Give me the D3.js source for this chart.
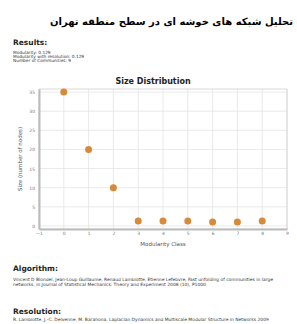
<!DOCTYPE html>
<html>
<head>
<meta charset="utf-8">
<script src="https://cdn.jsdelivr.net/npm/d3@7"></script>
<style>
  body { margin: 0; background: #fff; }
  svg { display: block; }
</style>
</head>
<body>
<script>
var classes = [0, 1, 2, 3, 4, 5, 6, 7, 8];
var sizes = [35, 20, 10, 1.3, 1.3, 1.3, 1, 1, 1.3];
var xTicks = [-1, 0, 1, 2, 3, 4, 5, 6, 7, 8, 9];
var yTicks = [0, 5, 10, 15, 20, 25, 30, 35];

var resultLines = ['Modularity: 0.129', 'Modularity with resolution: 0.129', 'Number of Communities: 9'];
var algoLines = ['Vincent D Blondel, Jean-Loup Guillaume, Renaud Lambiotte, Etienne Lefebvre, Fast unfolding of communities in large',
                 'networks, in Journal of Statistical Mechanics: Theory and Experiment 2008 (10), P1000'];
var resoLine = 'R. Lambiotte, J.-C. Delvenne, M. Barahona, Laplacian Dynamics and Multiscale Modular Structure in Networks 2009';

const width = 297, height = 324;
const plot = { left: 39, right: 287, top: 89, bottom: 229 };
const font = "'DejaVu Sans', sans-serif";

const svg = d3.select("body").append("svg")
    .attr("width", width).attr("height", height)
    .style("font-family", font);

// page header (Persian, right aligned)
svg.append("text")
    .attr("x", 293).attr("y", 25)
    .attr("text-anchor", "end")
    .attr("font-size", 10).attr("font-weight", "bold")
    .text("تحلیل شبکه های خوشه ای در سطح منطقه تهران");

function heading(label, y) {
    svg.append("text").attr("x", 13).attr("y", y)
        .attr("font-size", 7.5).attr("font-weight", "bold").attr("fill", "#222")
        .text(label);
}

heading("Results:", 45);
resultLines.forEach(function (t, i) {
    svg.append("text").attr("x", 13).attr("y", 54 + i * 4)
        .attr("font-size", 4.3).attr("fill", "#333").text(t);
});

// scales
const x = d3.scaleLinear().domain([-1, 9]).range([plot.left, plot.right]);
const y = d3.scaleLinear().domain([-0.8, 35.8]).range([plot.bottom, plot.top]);

svg.append("text")
    .attr("x", 153).attr("y", 84)
    .attr("text-anchor", "middle")
    .attr("font-size", 8).attr("font-weight", "bold").attr("fill", "#222")
    .text("Size Distribution");

const chart = svg.append("g");

// grid
chart.selectAll(".vgrid").data(xTicks).enter().append("line")
    .attr("x1", d => x(d)).attr("x2", d => x(d))
    .attr("y1", plot.top).attr("y2", plot.bottom)
    .attr("stroke", "#e4e4e4").attr("stroke-width", 0.8);
chart.selectAll(".hgrid").data(yTicks).enter().append("line")
    .attr("x1", plot.left).attr("x2", plot.right)
    .attr("y1", d => y(d)).attr("y2", d => y(d))
    .attr("stroke", "#e4e4e4").attr("stroke-width", 0.8);

// frame
chart.append("rect")
    .attr("x", plot.left).attr("y", plot.top)
    .attr("width", plot.right - plot.left).attr("height", plot.bottom - plot.top)
    .attr("fill", "none").attr("stroke", "#d0d0d0").attr("stroke-width", 0.8);

// axes
const xAxis = d3.axisBottom(x).tickValues(xTicks).tickSize(0).tickPadding(3);
const yAxis = d3.axisLeft(y).tickValues(yTicks).tickSize(0).tickPadding(4);

const gx = chart.append("g").attr("transform", `translate(0, ${plot.bottom})`).call(xAxis);
const gy = chart.append("g").attr("transform", `translate(${plot.left}, 0)`).call(yAxis);
[gx, gy].forEach(function (g) {
    g.select(".domain").attr("stroke", "#bbb").attr("stroke-width", 2);
    g.selectAll("text").attr("font-size", 4.5).attr("fill", "#777").attr("font-family", font);
});

svg.append("text")
    .attr("x", (plot.left + plot.right) / 2).attr("y", 246)
    .attr("text-anchor", "middle")
    .attr("font-size", 5.5).attr("fill", "#555")
    .text("Modularity Class");

svg.append("text")
    .attr("transform", `translate(22, ${(plot.top + plot.bottom) / 2}) rotate(-90)`)
    .attr("text-anchor", "middle")
    .attr("font-size", 5.5).attr("fill", "#555")
    .text("Size (number of nodes)");

// points
chart.selectAll(".pt").data(classes).enter().append("circle")
    .attr("cx", d => x(d)).attr("cy", (d, i) => y(sizes[i]))
    .attr("r", 3.5)
    .attr("fill", "#d68a3a");

heading("Algorithm:", 271);
algoLines.forEach(function (t, i) {
    svg.append("text").attr("x", 13).attr("y", 281 + i * 4.5)
        .attr("font-size", 4.45).attr("fill", "#333").text(t);
});

heading("Resolution:", 314);
svg.append("text").attr("x", 13).attr("y", 321)
    .attr("font-size", 4.45).attr("fill", "#333").text(resoLine);
</script>
</body>
</html>
